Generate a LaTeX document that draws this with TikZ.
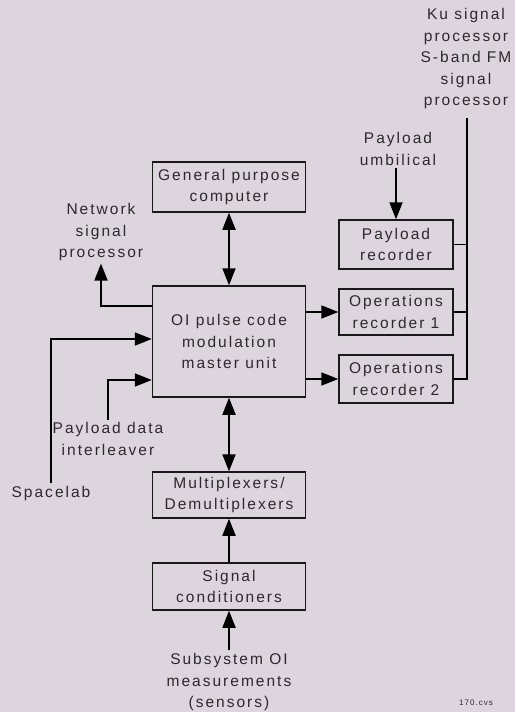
\documentclass[tikz,border=0pt]{standalone}
\usepackage{fontspec}
\setmainfont{Liberation Sans}[LetterSpace=13]
\usetikzlibrary{arrows.meta}
\definecolor{paper}{RGB}{220,213,222}
\definecolor{ink}{RGB}{45,40,45}

\begin{document}
\begin{tikzpicture}[x=1pt,y=-1pt,line width=1.8pt,
  every node/.style={font=\fontsize{15.5pt}{21.5pt}\selectfont,text=ink},
  box/.style={draw=black!90,line width=1.5pt,align=center,minimum width=153pt,inner sep=0pt},
  recbox/.style={box,minimum width=114pt},
  lbl/.style={align=center,inner sep=2pt},
  arr/.style={-{Triangle[length=17pt,width=13pt]}},
  dbl/.style={{Triangle[length=17pt,width=13pt]}-{Triangle[length=17pt,width=13pt]}}]
  \fill[paper] (0,0) rectangle (515,712);
  \useasboundingbox (0,0) rectangle (515,712);
  % boxes
  \node[box,minimum height=50pt] (gpc) at (229,187) {General purpose\\computer};
  \node[box,minimum height=111pt] (pcm) at (229,341.5) {OI pulse code\\modulation\\master unit};
  \node[box,minimum height=46pt] (mux) at (229,495) {Multiplexers/\\Demultiplexers};
  \node[box,minimum height=47pt] (sig) at (229,586.5) {Signal\\conditioners};
  \node[recbox,minimum height=49pt] (prec) at (396,244.5) {Payload\\recorder};
  \node[recbox,minimum height=46pt] (or1) at (396,312) {Operations\\recorder 1};
  \node[recbox,minimum height=48pt] (or2) at (396,379) {Operations\\recorder 2};
  % labels
  \node[lbl] (nsp) at (101,232) {Network\\signal\\processor};
  \node[lbl] (pdi) at (108,439) {Payload data\\interleaver};
  \node[lbl] (spl) at (51,493) {Spacelab};
  \node[lbl] (umb) at (398,149) {Payload\\umbilical};
  \node[lbl] (ku) at (466,58.5) {Ku signal\\processor\\S-band FM\\signal\\processor};
  \node[lbl] (sens) at (229,682) {Subsystem OI\\measurements\\(sensors)};
  \node[font=\fontsize{8pt}{9pt}\selectfont] (tag) at (476,703) {170.cvs};
  \coordinate (bus) at (467,0);
  % connectors
  \draw[dbl] (gpc) -- (pcm.north -| gpc);
  \draw[dbl] (pcm) -- (mux.north -| pcm);
  \draw[arr] (sig) -- (mux);
  \draw[arr] (sens) -- (sig);
  \draw[arr] ([yshift=35.5pt]pcm.west) -| (nsp.south);
  \draw[arr] (spl.north) |- ([yshift=2.5pt]pcm.west);
  \draw[arr] (pdi.north) |- ([yshift=-38.5pt]pcm.west);
  \draw[arr] (pcm.east |- or1) -- (or1);
  \draw[arr] (pcm.east |- or2) -- (or2);
  \draw[arr] (umb.south -| prec) -- (prec);
  \draw (or2.east) -| ([yshift=-6pt]ku.south -| bus);
  \draw (or1.east) -- (or1.east -| bus);
  \draw (prec.east) -- (prec.east -| bus);
\end{tikzpicture}
\end{document}
